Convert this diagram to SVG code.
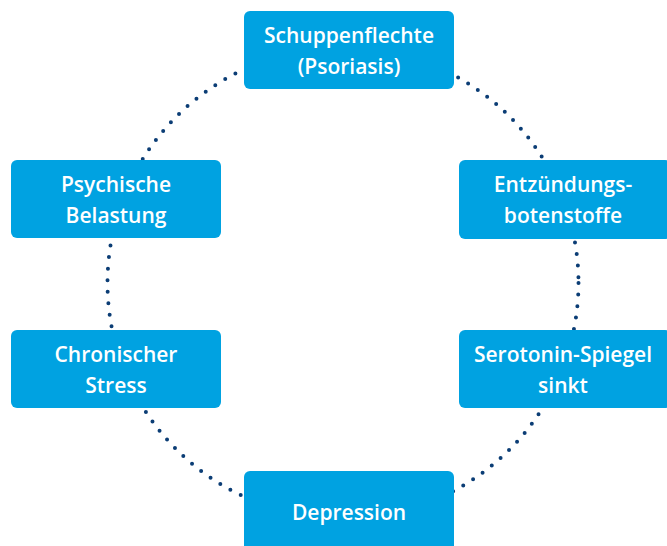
<svg xmlns="http://www.w3.org/2000/svg" width="667" height="546" viewBox="0 0 667 546">
<style>
.box{fill:#00a2e1;}
.t{font-family:"Open Sans","Noto Sans","Liberation Sans",sans-serif;font-size:21px;font-weight:600;fill:#ffffff;text-anchor:middle;}
.dots{fill:none;stroke:#0b3d75;stroke-width:4;stroke-linecap:round;stroke-dasharray:0 11.6;}
</style>
<rect width="667" height="546" fill="#ffffff"/>
<g id="connectors">
<circle class="dots" cx="343" cy="283" r="235.5"/>
</g>
<g id="n1"><rect class="box" x="244" y="11" width="210" height="78" rx="6"/><text class="t" x="349" y="43">Schuppenflechte</text><text class="t" x="349" y="74">(Psoriasis)</text></g>
<g id="n2"><rect class="box" x="459" y="160" width="212" height="79" rx="6"/><text class="t" x="563" y="192">Entzündungs-</text><text class="t" x="563" y="223">botenstoffe</text></g>
<g id="n3"><rect class="box" x="459" y="330" width="212" height="78" rx="6"/><text class="t" x="563" y="362">Serotonin-Spiegel</text><text class="t" x="563" y="393">sinkt</text></g>
<g id="n4"><rect class="box" x="244" y="471" width="210" height="80" rx="6"/><text class="t" x="349" y="520">Depression</text></g>
<g id="n5"><rect class="box" x="11" y="330" width="210" height="78" rx="6"/><text class="t" x="116" y="362">Chronischer</text><text class="t" x="116" y="393">Stress</text></g>
<g id="n6"><rect class="box" x="11" y="160" width="210" height="78" rx="6"/><text class="t" x="116" y="192">Psychische</text><text class="t" x="116" y="223">Belastung</text></g>
</svg>
